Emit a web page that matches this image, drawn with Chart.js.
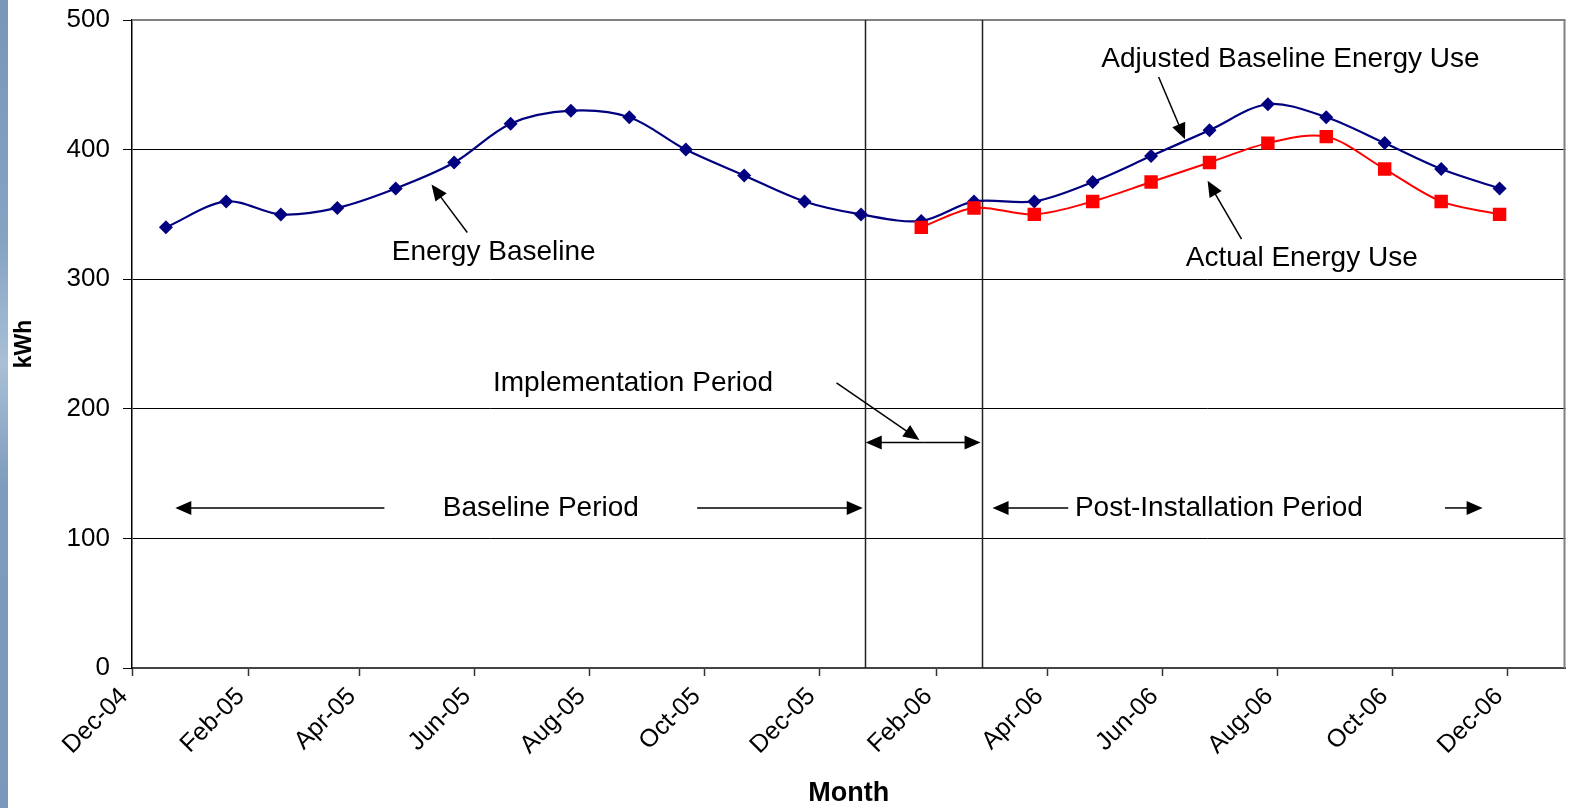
<!DOCTYPE html>
<html lang="en">
<head>
<meta charset="UTF-8">
<title>Energy Baseline</title>
<script src="https://cdn.jsdelivr.net/npm/chart.js@4/dist/chart.umd.min.js"></script>
<style>
    html, body { margin: 0; padding: 0; background: #fff; overflow: hidden; }
    #wrap { position: relative; width: 1569px; height: 808px; overflow: hidden; }
    #strip { position: absolute; left: 0; top: 0; width: 8px; height: 808px;
             background: linear-gradient(180deg, #7896b8 0%, #86a3c4 30%, #a9bfd6 45%, #7f9cbe 60%, #7a98bb 100%); }
    canvas { position: absolute; left: 0; top: 0; }
</style>
</head>
<body>
<div id="wrap">
    <div id="strip"></div>
    <canvas id="myChart" width="1575" height="808"></canvas>
</div>

<script>
    // meter read dates (baseline and post-installation)
    var readDates = ['2004-12-19', '2005-01-20', '2005-02-18', '2005-03-20', '2005-04-20', '2005-05-21',
                     '2005-06-20', '2005-07-22', '2005-08-22', '2005-09-21', '2005-10-22', '2005-11-23',
                     '2005-12-23', '2006-01-24', '2006-02-21', '2006-03-25', '2006-04-25', '2006-05-26',
                     '2006-06-26', '2006-07-27', '2006-08-27', '2006-09-27', '2006-10-27', '2006-11-27'];
    var baselineKwh = [340, 360, 350, 355, 370, 390, 420, 430, 425, 400, 380, 360,
                       350, 345, 360, 360, 375, 395, 415, 435, 425, 405, 385, 370];
    // actual use only measured from the Jan-06 read onwards
    var actualStart = 13;
    var actualKwh = [340, 355, 350, 360, 375, 390, 405, 410, 385, 360, 350];

    var tickDates = ['2004-12-01', '2005-02-01', '2005-04-01', '2005-06-01', '2005-08-01', '2005-10-01', '2005-12-01',
                     '2006-02-01', '2006-04-01', '2006-06-01', '2006-08-01', '2006-10-01', '2006-12-01'];
    var monthNames = ['Jan', 'Feb', 'Mar', 'Apr', 'May', 'Jun', 'Jul', 'Aug', 'Sep', 'Oct', 'Nov', 'Dec'];
    var implStart = '2005-12-25', implEnd = '2006-02-25';
    var axisEnd = '2007-01-01';

    var day0 = Date.UTC(2004, 11, 1);
    function toDay(s) {
        var p = s.split('-');
        return Math.round((Date.UTC(+p[0], +p[1] - 1, +p[2]) - day0) / 86400000);
    }
    function dayLabel(d) {
        var dt = new Date(day0 + d * 86400000);
        return monthNames[dt.getUTCMonth()] + '-' + String(dt.getUTCFullYear()).slice(2);
    }

    var baselinePts = readDates.map(function (d, i) { return {x: toDay(d), y: baselineKwh[i]}; });
    var actualPts = actualKwh.map(function (v, i) { return {x: toDay(readDates[actualStart + i]), y: v}; });
    var tickDays = tickDates.map(toDay);

    Chart.defaults.font.family = "'Liberation Sans', Arial, sans-serif";
    Chart.defaults.color = '#000';

    function arrow(ctx, x1, y1, x2, y2) {
        var ang = Math.atan2(y2 - y1, x2 - x1), len = 16, hw = 7;
        ctx.beginPath();
        ctx.moveTo(x1, y1);
        ctx.lineTo(x2 - Math.cos(ang) * len * 0.8, y2 - Math.sin(ang) * len * 0.8);
        ctx.stroke();
        ctx.beginPath();
        ctx.moveTo(x2, y2);
        ctx.lineTo(x2 - Math.cos(ang) * len - Math.sin(ang) * hw, y2 - Math.sin(ang) * len + Math.cos(ang) * hw);
        ctx.lineTo(x2 - Math.cos(ang) * len + Math.sin(ang) * hw, y2 - Math.sin(ang) * len - Math.cos(ang) * hw);
        ctx.closePath();
        ctx.fill();
    }

    var notes = {
        id: 'notes',
        beforeDatasetsDraw: function (chart) {
            var ctx = chart.ctx, a = chart.chartArea, x = chart.scales.x;
            ctx.save();
            // top and right frame
            ctx.strokeStyle = '#808080';
            ctx.lineWidth = 2;
            ctx.beginPath();
            ctx.moveTo(a.left, a.top);
            ctx.lineTo(a.right - 1, a.top);
            ctx.lineTo(a.right - 1, a.bottom);
            ctx.stroke();
            // implementation period boundaries
            ctx.strokeStyle = '#222';
            ctx.lineWidth = 1.5;
            [implStart, implEnd].forEach(function (d) {
                var px = Math.round(x.getPixelForValue(toDay(d))) + 0.5;
                ctx.beginPath();
                ctx.moveTo(px, a.top);
                ctx.lineTo(px, a.bottom);
                ctx.stroke();
            });
            ctx.restore();
        },
        afterDatasetsDraw: function (chart) {
            var ctx = chart.ctx, x = chart.scales.x, y = chart.scales.y;
            function X(d) { return x.getPixelForValue(d); }
            function Y(v) { return y.getPixelForValue(v); }
            var s = X(toDay(implStart)), e = X(toDay(implEnd));
            ctx.save();
            ctx.fillStyle = '#000';
            ctx.strokeStyle = '#000';
            ctx.lineWidth = 1.5;
            ctx.font = "28px 'Liberation Sans', Arial, sans-serif";
            ctx.textAlign = 'center';
            ctx.textBaseline = 'middle';

            ctx.fillText('Energy Baseline', X(192), Y(321));
            arrow(ctx, X(178), Y(336), X(159), Y(373));

            ctx.fillText('Adjusted Baseline Energy Use', X(615), Y(470));
            arrow(ctx, X(545), Y(456), X(559), Y(408));

            ctx.fillText('Actual Energy Use', X(621), Y(316));
            arrow(ctx, X(589), Y(331), X(571), Y(376));

            ctx.fillText('Implementation Period', X(266), Y(220));
            arrow(ctx, X(374), Y(220), X(418), Y(176));
            var yi = Y(174);
            arrow(ctx, (s + e) / 2, yi, e - 1, yi);
            arrow(ctx, (s + e) / 2, yi, s + 1, yi);

            var yb = Y(123.5);
            ctx.fillText('Baseline Period', X(217), yb);
            arrow(ctx, X(134), yb, X(23), yb);
            arrow(ctx, X(300), yb, s - 2, yb);

            ctx.fillText('Post-Installation Period', X(577), yb);
            arrow(ctx, X(497), yb, e + 11, yb);
            arrow(ctx, X(697), yb, X(717), yb);
            ctx.restore();
        }
    };

    var ctx = document.getElementById('myChart').getContext('2d');
    var chart = new Chart(ctx, {
        type: 'line',
        data: {
            datasets: [
                {
                    label: 'Actual Energy Use',
                    data: actualPts,
                    borderColor: '#ff0000',
                    backgroundColor: '#ff0000',
                    borderWidth: 2,
                    pointStyle: 'rect',
                    pointRadius: 9.5,
                    pointBorderWidth: 0,
                    tension: 0.33,
                    order: 0
                },
                {
                    label: 'Energy Baseline',
                    data: baselinePts,
                    borderColor: '#000080',
                    backgroundColor: '#000080',
                    borderWidth: 2.2,
                    pointStyle: 'rectRot',
                    pointRadius: 7,
                    pointBorderWidth: 0,
                    tension: 0.33,
                    order: 1
                }
            ]
        },
        options: {
            responsive: false,
            animation: false,
            layout: {padding: {top: 20, right: 0, left: 0, bottom: 0}},
            plugins: {legend: {display: false}, tooltip: {enabled: false}},
            scales: {
                x: {
                    type: 'linear',
                    min: 0,
                    max: toDay(axisEnd),
                    afterBuildTicks: function (scale) {
                        scale.ticks = tickDays.map(function (d) { return {value: d}; });
                    },
                    afterFit: function (scale) {
                        scale.height = 140;
                        scale.paddingLeft = 0;
                        scale.paddingRight = 0;
                    },
                    ticks: {
                        autoSkip: false,
                        maxRotation: 45,
                        minRotation: 45,
                        padding: 6,
                        labelOffset: -8,
                        font: {size: 25},
                        callback: function (v) { return dayLabel(v); }
                    },
                    grid: {drawOnChartArea: false, tickLength: 8, tickColor: '#333', tickWidth: 1.5},
                    border: {color: '#444', width: 2},
                    title: {display: true, text: 'Month', font: {size: 27, weight: 'bold'}, padding: {top: 0, bottom: -2}}
                },
                y: {
                    min: 0,
                    max: 500,
                    afterFit: function (scale) {
                        scale.width = 132;
                        scale.paddingTop = 0;
                        scale.paddingBottom = 0;
                    },
                    ticks: {stepSize: 100, padding: 13, font: {size: 26}},
                    grid: {
                        color: function (c) {
                            if (c.tick.value === 0) return 'rgba(0,0,0,0)';
                            if (c.tick.value === 500) return '#808080';
                            return '#000';
                        },
                        tickColor: '#000',
                        tickLength: 9,
                        lineWidth: 1
                    },
                    border: {color: '#000', width: 1.5},
                    title: {display: true, text: 'kWh', font: {size: 23, weight: 'bold'}, padding: {top: 11, bottom: 0}}
                }
            }
        },
        plugins: [notes]
    });
</script>
</body>
</html>
